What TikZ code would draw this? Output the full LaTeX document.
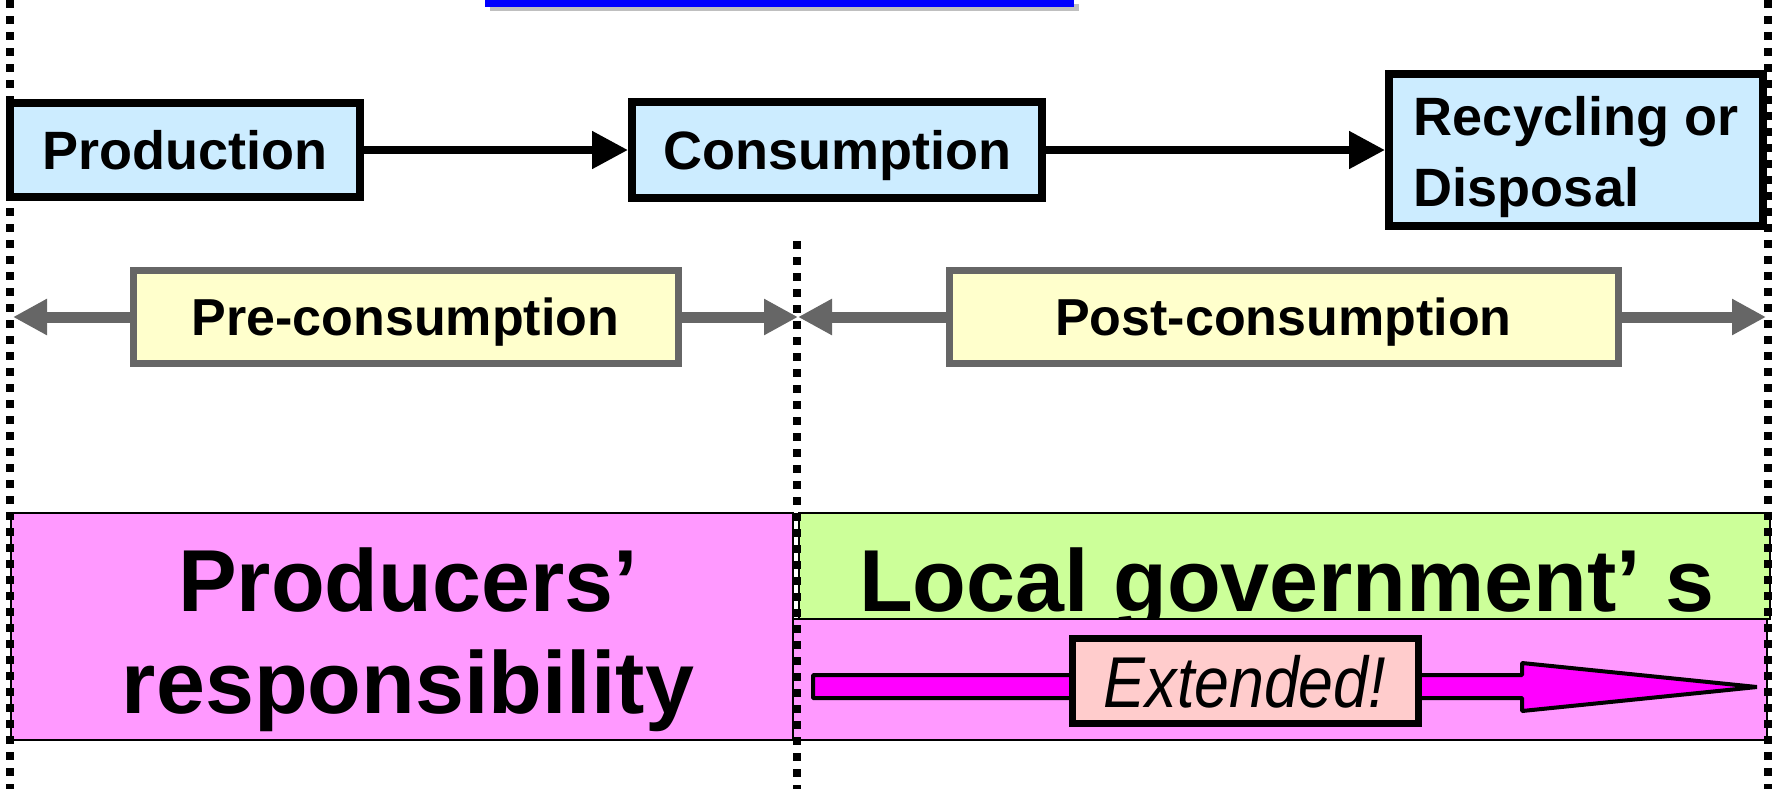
\documentclass[tikz,border=0pt]{standalone}
\usepackage{fontspec}
\setmainfont{Liberation Sans}
\usetikzlibrary{arrows.meta}

\begin{document}
\begin{tikzpicture}
	[x=0.5pt,y=-0.5pt,line cap=butt,
	%Styles
	stage node/.style={draw,line width=4pt,fill=stageblue,inner sep=0pt,
		font=\bfseries\fontsize{27}{35.5}\selectfont},
	period node/.style={draw=hatchgray,line width=3.5pt,fill=periodyellow,inner sep=0pt,text depth=0pt,
		font=\bfseries\fontsize{26}{31}\selectfont},
	flow arrow/.style={line width=4pt,-{Triangle[length=18pt,width=18pt]}},
	period arrow/.style={hatchgray,line width=5.5pt,-{Triangle[length=17pt,width=17pt]}},
	duty box/.style={draw,line width=1pt,inner sep=0pt},
	duty text/.style={inner sep=0pt,align=center,font=\bfseries\fontsize{44}{51}\selectfont},
	boundary/.style={line width=3.75pt,dash pattern=on 3.75pt off 4.25pt}
	]

	%Colors
	\definecolor{stageblue}{HTML}{CCECFF}
	\definecolor{periodyellow}{HTML}{FFFFCC}
	\definecolor{hatchgray}{gray}{0.4}
	\definecolor{dutypink}{HTML}{FF99FF}
	\definecolor{dutygreen}{HTML}{CCFF99}
	\definecolor{extendpink}{HTML}{FFCCCC}
	\definecolor{arrowmagenta}{HTML}{FF00FF}
	\definecolor{titleblue}{HTML}{0000FF}

	\useasboundingbox (0,0) rectangle (1776,789);

	%Title bar (cut off)
	\fill[gray!50] (490,4) rectangle (1079,11);
	\fill[titleblue] (485,0) rectangle (1074,7);

	%The graphic
	\node[stage node,minimum width=175pt,minimum height=47pt,text depth=0pt] (prod) at (185,150) {Production};
	\node[stage node,minimum width=205pt,minimum height=48pt,text depth=0pt] (cons) at (837,150) {Consumption};
	\node[stage node,minimum width=187pt,minimum height=76pt,align=left]
		(recyc) at (1576,150) {\rule{0pt}{26.5pt}Recycling or\\Disposal};

	\path	(prod)	edge[flow arrow] (cons)
			(cons)	edge[flow arrow] (recyc);

	\node[period node,minimum width=272.5pt,minimum height=46.5pt] (pre) at (405.5,317) {Pre-consumption};
	\node[period node,minimum width=334.5pt,minimum height=46.5pt] (post) at (1283.5,317) {Post-consumption};

	\coordinate (west end) at (13,317);
	\coordinate (mid end) at (798,317);
	\coordinate (east end) at (1766,317);

	\draw[period arrow] (pre.west) -- (west end);
	\draw[period arrow] (pre.east) -- (mid end);
	\draw[period arrow] (post.west) -- (mid end);
	\draw[period arrow] (post.east) -- (east end);

	%Responsibilities
	\node[duty box,fill=dutypink,minimum width=391pt,minimum height=113.5pt] (producers) at (402,626.5) {};
	\node[duty box,fill=dutygreen,minimum width=485.5pt,minimum height=53pt] (local) at (1284.5,566) {};
	\node[duty text] (local text) at (1287,589) {Local government’ s};
	\node[duty box,fill=dutypink,minimum width=487pt,minimum height=60.5pt] (extension) at (1280,679.5) {};

	\draw[line width=2pt,line join=bevel,fill=arrowmagenta]
		(813,675) -- (1522,675) -- (1522,663) -- (1757,687) -- (1522,711) -- (1522,698) -- (813,698) -- cycle;
	\node[draw,line width=3.5pt,fill=extendpink,inner sep=0pt,minimum width=173pt,minimum height=42.5pt,text depth=0pt,
		font=\itshape\addfontfeature{FakeStretch=0.87}\fontsize{36}{42}\selectfont] (extended) at (1245,681) {Extended!};

	\node[duty text] (producers text) at (408,640) {Producers’\\responsibility};

	%Borders between stages
	\draw[boundary] (10,0) -- (10,789);
	\draw[boundary] (797,241) -- (797,789);
	\draw[boundary] (1768,0) -- (1768,789);
\end{tikzpicture}
\end{document}
